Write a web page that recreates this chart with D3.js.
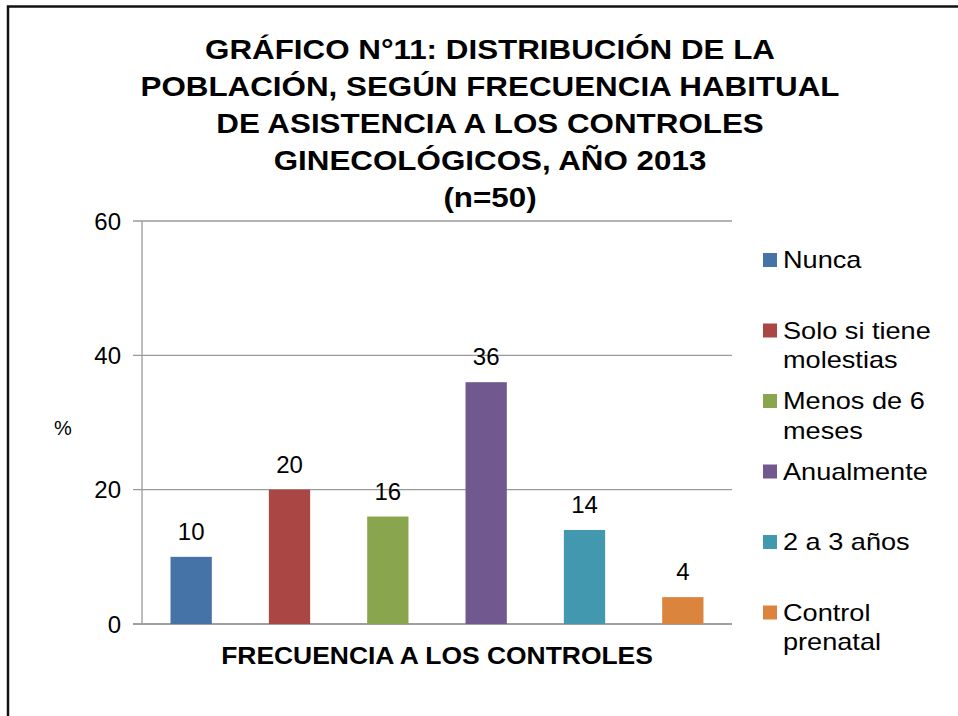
<!DOCTYPE html>
<html>
<head>
<meta charset="utf-8">
<script src="https://cdn.jsdelivr.net/npm/d3@7"></script>
<style>
  body { margin: 0; background: #fff; }
  text { font-family: "Liberation Sans", Arial, sans-serif; }
</style>
</head>
<body>
<div id="chart"></div>
<script>
// data
const categories = ["Nunca", "Solo si tiene molestias", "Menos de 6 meses", "Anualmente", "2 a 3 años", "Control prenatal"];
const values = [10, 20, 16, 36, 14, 4];
const colors = ["#4572A7", "#AA4643", "#89A54E", "#71588F", "#4198AF", "#DB843D"];
const legendLines = [["Nunca"], ["Solo si tiene", "molestias"], ["Menos de 6", "meses"], ["Anualmente"], ["2 a 3 años"], ["Control", "prenatal"]];
const yTicks = [0, 20, 40, 60];
const titleLines = [
  "GRÁFICO N°11: DISTRIBUCIÓN DE LA",
  "POBLACIÓN, SEGÚN FRECUENCIA HABITUAL",
  "DE ASISTENCIA A LOS CONTROLES",
  "GINECOLÓGICOS, AÑO 2013",
  "(n=50)"
];

const width = 958;
const height = 716;
const svg = d3.select("#chart")
  .append("svg")
  .attr("width", width)
  .attr("height", height);

// the source picture is a bit stretched sideways, so text gets a small x scale
const stretch = (tx, ty, sx) => `translate(${tx},${ty}) scale(${sx},1)`;

// outer frame (runs off the right and bottom edges)
svg.append("rect")
  .attr("x", 8)
  .attr("y", 6.5)
  .attr("width", 1000)
  .attr("height", 800)
  .attr("fill", "none")
  .attr("stroke", "#111")
  .attr("stroke-width", 2.5);

// plot area
const plotLeft = 142, plotRight = 732, plotTop = 221, plotBottom = 624;

const x = d3.scaleBand()
  .domain(categories)
  .range([plotLeft, plotRight])
  .paddingInner(0.58)
  .paddingOuter(0.29);

const y = d3.scaleLinear()
  .domain([0, 60])
  .range([plotBottom, plotTop]);

// gridlines
svg.append("g")
  .selectAll("line")
  .data(yTicks)
  .join("line")
  .attr("x1", plotLeft - 9)
  .attr("x2", plotRight)
  .attr("y1", (d) => y(d))
  .attr("y2", (d) => y(d))
  .attr("stroke", (d) => (d === 0 ? "#a0a0a0" : "#9a9a9a"))
  .attr("stroke-width", (d) => (d === 0 ? 2 : 1.3));

// y axis line
svg.append("line")
  .attr("x1", plotLeft)
  .attr("x2", plotLeft)
  .attr("y1", plotTop)
  .attr("y2", plotBottom)
  .attr("stroke", "#9a9a9a")
  .attr("stroke-width", 1.3);

// y tick labels
svg.append("g")
  .selectAll("text")
  .data(yTicks)
  .join("text")
  .attr("x", 121)
  .attr("y", (d) => y(d) + 8.5)
  .attr("text-anchor", "end")
  .attr("font-size", 24)
  .attr("fill", "#000")
  .text((d) => d);

// bars
svg.append("g")
  .selectAll("rect")
  .data(values)
  .join("rect")
  .attr("x", (d, i) => x(categories[i]))
  .attr("y", (d) => y(d))
  .attr("width", x.bandwidth())
  .attr("height", (d) => y(0) - y(d))
  .attr("fill", (d, i) => colors[i]);

// value labels
svg.append("g")
  .selectAll("text")
  .data(values)
  .join("text")
  .attr("x", (d, i) => x(categories[i]) + x.bandwidth() / 2)
  .attr("y", (d) => y(d) - 17)
  .attr("text-anchor", "middle")
  .attr("font-size", 24)
  .text((d) => d);

// axis titles
svg.append("text")
  .attr("x", 63)
  .attr("y", 435)
  .attr("text-anchor", "middle")
  .attr("font-size", 20)
  .text("%");

svg.append("text")
  .attr("transform", stretch(437, 664, 1.15))
  .attr("text-anchor", "middle")
  .attr("font-size", 23)
  .attr("font-weight", "bold")
  .text("FRECUENCIA A LOS CONTROLES");

// title
svg.append("g")
  .selectAll("text")
  .data(titleLines)
  .join("text")
  .attr("transform", (d, i) => stretch(490, 59 + i * 37, 1.12))
  .attr("text-anchor", "middle")
  .attr("font-size", 28)
  .attr("font-weight", "bold")
  .text((d) => d);

// legend
const legend = svg.append("g")
  .selectAll("g")
  .data(legendLines)
  .join("g")
  .attr("transform", (d, i) => `translate(763, ${260 + i * 70.5})`);

legend.append("rect")
  .attr("x", 0)
  .attr("y", -7)
  .attr("width", 14)
  .attr("height", 14)
  .attr("fill", (d, i) => colors[i]);

legend.append("text")
  .attr("transform", stretch(20, 0, 1.18))
  .attr("font-size", 23)
  .selectAll("tspan")
  .data((d) => d)
  .join("tspan")
  .attr("x", 0)
  .attr("y", (d, j) => 8 + j * 30)
  .text((d) => d);
</script>
</body>
</html>
